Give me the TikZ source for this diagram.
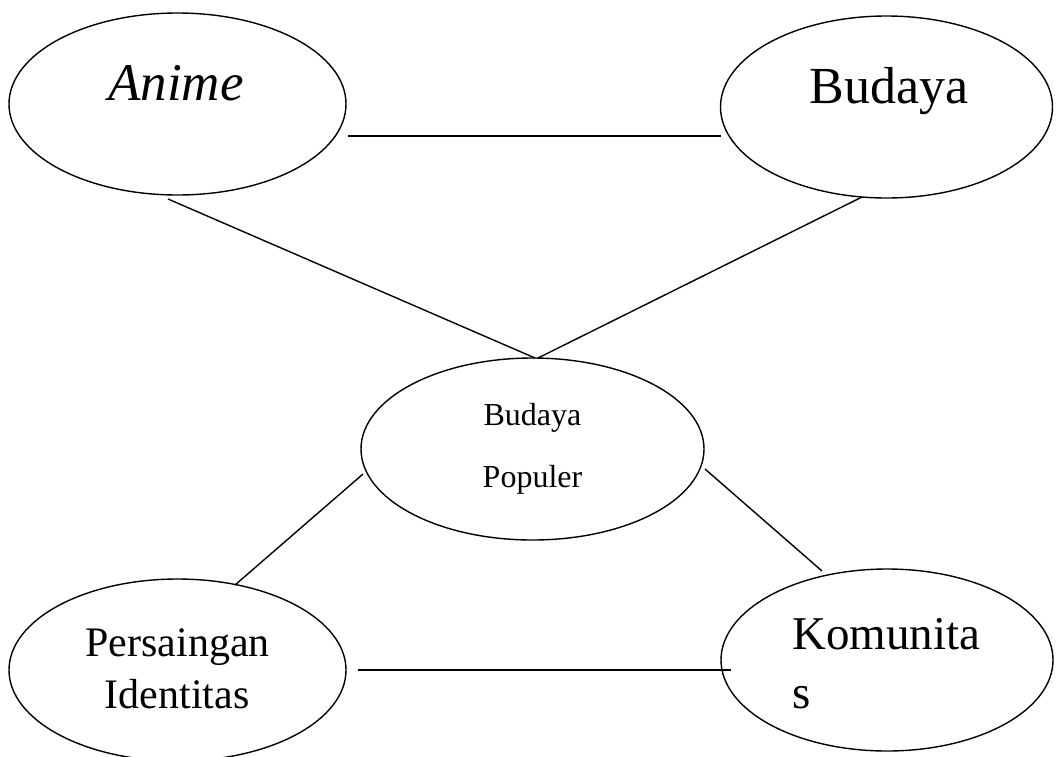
\documentclass[tikz,border=0pt]{standalone}
\usepackage{fontspec}
\setmainfont{Liberation Serif}
\usetikzlibrary{shapes.geometric,calc}
\begin{document}
\begin{tikzpicture}[x=1pt,y=-1pt,
  oval/.style={draw=black,ellipse,line width=1.4pt,inner sep=0pt,minimum height=182pt},
  conn/.style={draw=black,line width=1.4pt},
  lbl/.style={anchor=base,inner sep=0pt}]
\useasboundingbox (0,0) rectangle (1059,756);
\clip (0,0) rectangle (1059,756);
\node[oval,minimum width=337pt] (anime) at (177.5,104) {};
\node[oval,minimum width=332pt] (budaya) at (886.5,107) {};
\node[oval,minimum width=343pt] (bp) at (532.5,449) {};
\node[oval,minimum width=337pt] (pi) at (177.5,670) {};
\node[oval,minimum width=332pt] (kom) at (887,660) {};
\node[lbl,font=\fontsize{53}{53}\selectfont\itshape] (tanime) at (176,100) {Anime};
\node[lbl,font=\fontsize{52}{52}\selectfont] (tbudaya) at (889,103) {Budaya};
\node[lbl,font=\fontsize{32}{32}\selectfont] (tbp1) at (532.5,425) {Budaya};
\node[lbl,font=\fontsize{32}{32}\selectfont] (tbp2) at (532.5,487) {Populer};
\node[lbl,font=\fontsize{42}{42}\selectfont] (tpi1) at (177.5,656) {Persaingan};
\node[lbl,font=\fontsize{42}{42}\selectfont] (tpi2) at (177,708) {Identitas};
\node[lbl,anchor=base west,font=\fontsize{47}{47}\selectfont] (tkom1) at (792,649) {Komunita};
\node[lbl,anchor=base west,font=\fontsize{47}{47}\selectfont] (tkom2) at (792,708) {s};
\draw[conn] ($(anime.center)+(170.5,32)$) -- ($(budaya.center)+(-165.5,29)$);
\draw[conn] ($(anime.center)+(-9.5,95)$) -- ($(bp.center)+(2.5,-91)$);
\draw[conn] ($(budaya.center)+(-24.5,90)$) -- ($(bp.center)+(5.5,-91)$);
\draw[conn] ($(bp.center)+(-169.5,25)$) -- ($(pi.center)+(57.5,-85)$);
\draw[conn] ($(bp.center)+(172.5,20)$) -- ($(kom.center)+(-65,-89)$);
\draw[conn] ($(pi.center)+(180.5,0)$) -- ($(kom.center)+(-156,10)$);
\end{tikzpicture}
\end{document}
